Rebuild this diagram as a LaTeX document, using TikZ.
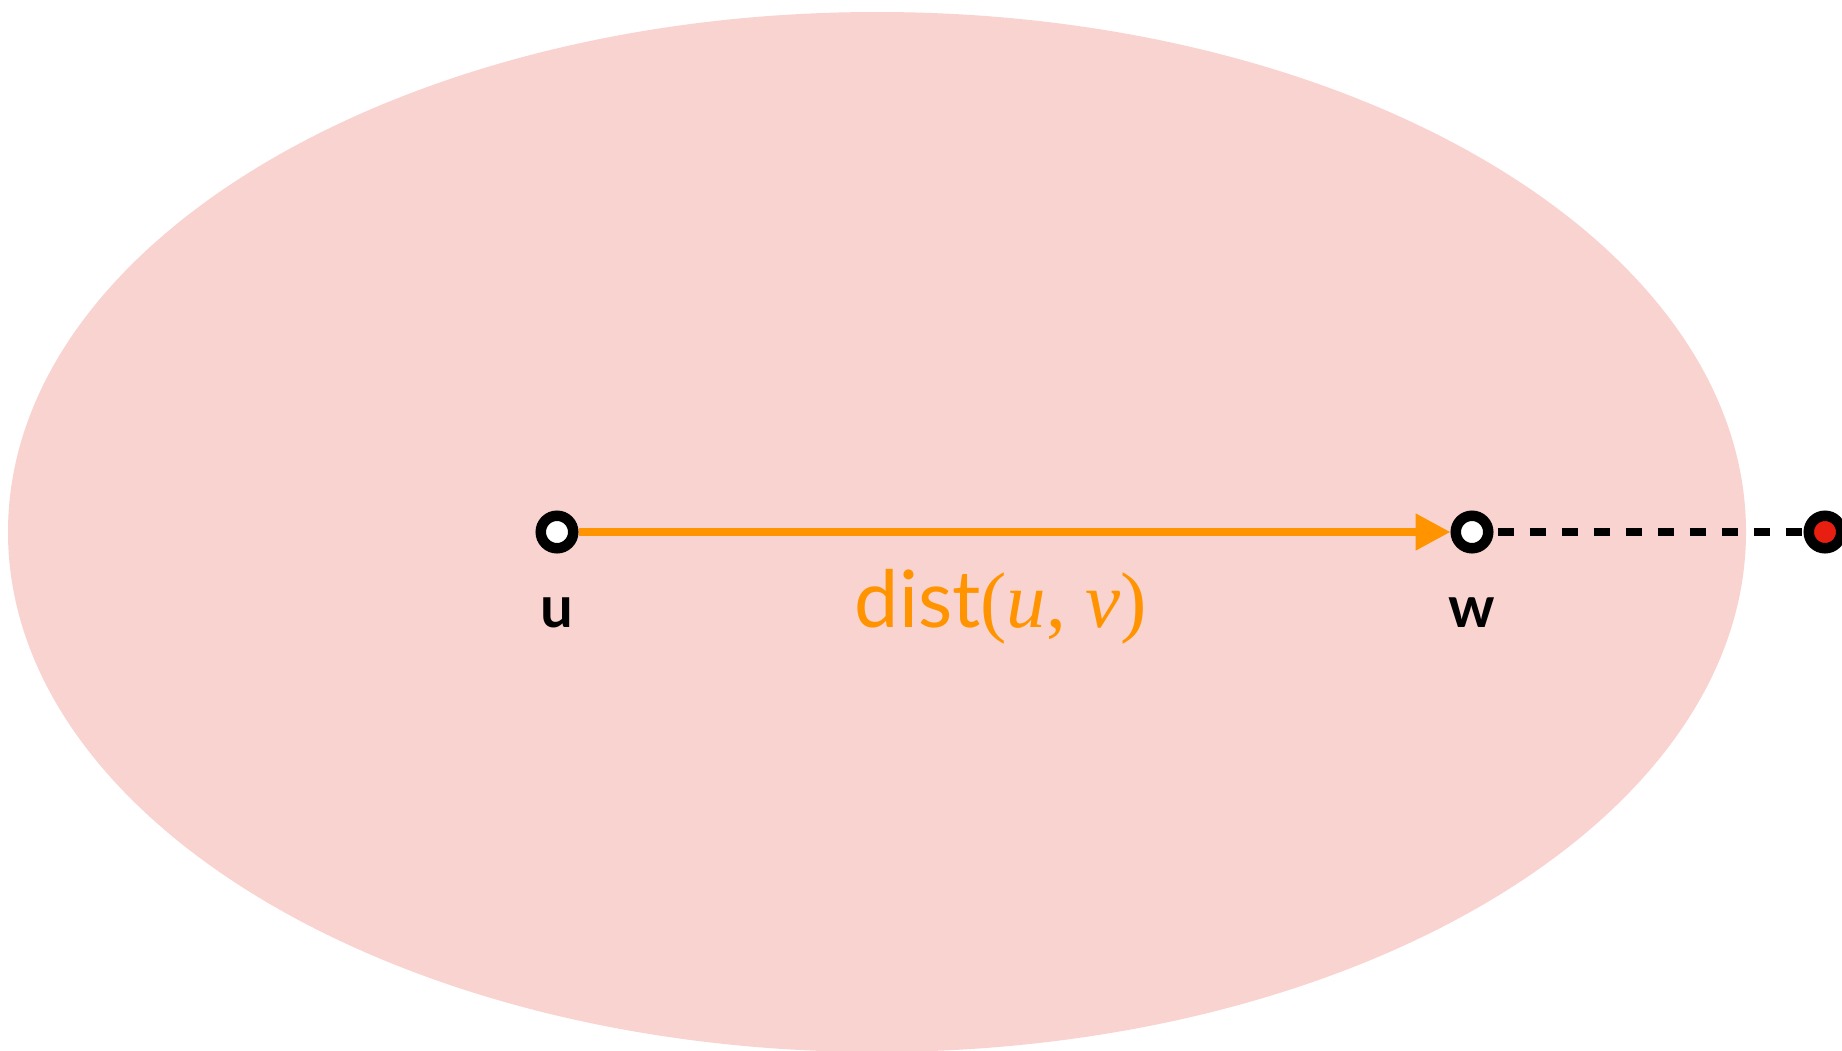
\documentclass[tikz,border=0pt]{standalone}
\usepackage{fontspec}
\setmainfont{Lato}
\newfontfamily\serifmath{Liberation Serif}
\usetikzlibrary{arrows.meta}
\definecolor{ellfill}{RGB}{249,211,207}
\definecolor{arrorange}{RGB}{255,148,0}
\definecolor{dotred}{RGB}{232,30,16}
\begin{document}
\begin{tikzpicture}[x=0.5pt,y=-0.5pt,
  vertex/.style={circle,draw=black,line width=5.25pt,minimum size=16.25pt,inner sep=0pt,fill=white},
  redvertex/.style={vertex,fill=dotred},
  vlabel/.style={anchor=base,inner sep=0pt,font=\bfseries\fontsize{29}{31}\selectfont},
  distlabel/.style={anchor=base,inner sep=0pt,text=arrorange,font=\fontsize{39.5}{42}\selectfont},
  distarrow/.style={draw=arrorange,line width=4pt,-{Triangle[length=17.5pt,width=17.5pt]}},
  dashedge/.style={draw=black,line width=4pt,dash pattern=on 8.3pt off 7.7pt,shorten <=2pt}]
\useasboundingbox (0,0) rectangle (1842,1050);
\fill[ellfill] (877,532) ellipse [x radius=434.5pt, y radius=260pt];
\node[vertex] (u) at (557,532) {};
\node[vertex] (w) at (1472,532) {};
\node[redvertex] (r) at (1825,532) {};
\draw[distarrow] (u) -- (w);
\draw[dashedge] (w) -- (r);
\node[vlabel] (ul) at (557,627) {u};
\node[vlabel] (wl) at (1472,627) {w};
\node[distlabel] (dl) at (1001,627) {dist{\serifmath(\textit{u}, \textit{v})}};
\end{tikzpicture}
\end{document}
